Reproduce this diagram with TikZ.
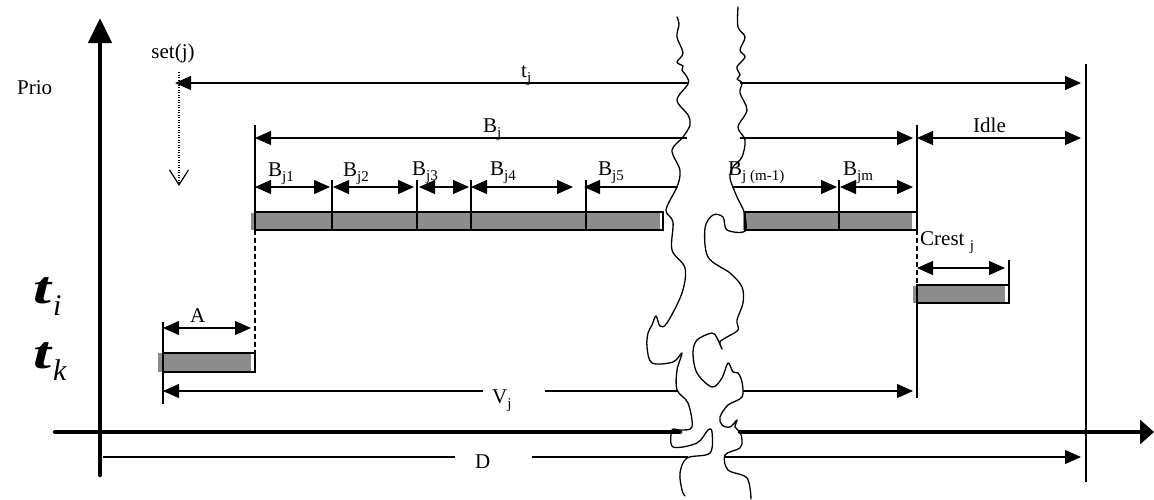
\documentclass[tikz,border=0pt]{standalone}
\usepackage{fontspec}
\setmainfont{Liberation Serif}
\usetikzlibrary{arrows.meta}
\newcommand{\lsub}[1]{\raisebox{-5pt}{\fontsize{15}{15}\selectfont #1}}
\begin{document}
\begin{tikzpicture}[x=1pt,y=-1pt,
  thin/.style={line width=1.2pt},
  both/.style={thin,{Triangle[length=16pt,width=14pt]}-{Triangle[length=16pt,width=14pt]}},
  lefthead/.style={thin,{Triangle[length=16pt,width=14pt]}-},
  righthead/.style={thin,-{Triangle[length=16pt,width=14pt]}},
  axisline/.style={line width=4.5pt,line cap=round},
  dashtick/.style={thin,dash pattern=on 5pt off 3pt},
  barfill/.style={fill=black!45,draw=none},
  barline/.style={thin,draw=black},
  lbl/.style={font=\fontsize{21}{21}\selectfont,inner sep=0pt,anchor=base west},
  bigt/.style={font=\fontsize{46}{46}\selectfont\bfseries\itshape,inner sep=0pt,anchor=base west},
  tear/.style={line width=1.3pt,line join=round,line cap=round},
]
\useasboundingbox (0,0) rectangle (1154,499);

% ---------- axes ----------
\coordinate (vaB) at (100,475); \coordinate (vaT) at (100,18);
\draw[axisline,-{Triangle[length=25pt,width=23pt]}] (vaB) -- (vaT);
\coordinate (haL) at (55,432); \coordinate (haLg) at (680,432);
\coordinate (haRg) at (740,432); \coordinate (haR) at (1154,432);
\draw[axisline] (haL) -- (haLg);
\draw[axisline,-{Triangle[length=14pt,width=24pt]}] (haRg) -- (haR);

% ---------- bars ----------
\fill[barfill] (251,213) rectangle (660,230);
\draw[barline] (255,212) rectangle (663,230);
\fill[barfill] (743,213) rectangle (912,230);
\draw[barline] (745,212) rectangle (917,230);
\fill[barfill] (158,353) rectangle (251,372);
\draw[barline] (163,353) rectangle (255,372);
\fill[barfill] (913,286) rectangle (1005,303);
\draw[barline] (917,285) rectangle (1009,303);

% ---------- ticks ----------
\coordinate (kB1) at (255,125); \coordinate (kB2) at (255,230); \coordinate (kB3) at (255,353);
\draw[thin] (kB1) -- (kB2); \draw[dashtick] (kB2) -- (kB3);
\foreach \x/\n in {332/a,417/b,471/c,586/d,839/e}{
  \coordinate (t\n1) at (\x,180); \coordinate (t\n2) at (\x,230);
  \draw[thin] (t\n1) -- (t\n2);}
\coordinate (kE1) at (917,125); \coordinate (kE2) at (917,230);
\coordinate (kE3) at (917,285); \coordinate (kE4) at (917,398);
\draw[thin] (kE1) -- (kE2); \draw[dashtick] (kE2) -- (kE3); \draw[thin] (kE3) -- (kE4);
\coordinate (kA1) at (163,322); \coordinate (kA2) at (163,404);
\draw[thin] (kA1) -- (kA2);
\coordinate (kC1) at (1009,260); \coordinate (kC2) at (1009,303);
\draw[thin] (kC1) -- (kC2);
\coordinate (kR1) at (1086,64); \coordinate (kR2) at (1086,482);
\draw[thin] (kR1) -- (kR2);

% ---------- set(j) ----------
\coordinate (sj1) at (179,72); \coordinate (sj2) at (179,186);
\draw[line width=1.1pt,dash pattern=on 1.3pt off 1.2pt,-{Straight Barb[length=15pt,width=19pt,line width=1.2pt]}] (sj1) -- (sj2);

% ---------- dimension arrows ----------
\coordinate (tjL) at (175,83); \coordinate (tjLg) at (688,83);
\coordinate (tjRg) at (740,83); \coordinate (tjR) at (1081,83);
\draw[lefthead] (tjL) -- (tjLg); \draw[righthead] (tjRg) -- (tjR);

\coordinate (bjL) at (255,138); \coordinate (bjLg) at (687,138);
\coordinate (bjRg) at (740,138); \coordinate (bjR) at (913,138);
\draw[lefthead] (bjL) -- (bjLg); \draw[righthead] (bjRg) -- (bjR);
\coordinate (idL) at (917,138); \coordinate (idR) at (1081,138);
\draw[both] (idL) -- (idR);

\coordinate (b1L) at (255,187); \coordinate (b1R) at (330,187);
\coordinate (b2L) at (333,187); \coordinate (b2R) at (414,187);
\coordinate (b3L) at (419,187); \coordinate (b3R) at (469,187);
\coordinate (b4L) at (471,187); \coordinate (b4R) at (573,187);
\coordinate (b5L) at (584,187); \coordinate (b5R) at (678,187);
\coordinate (bmL) at (732,187); \coordinate (bmR) at (837,187);
\coordinate (bnL) at (840,187); \coordinate (bnR) at (913,187);
\draw[both] (b1L) -- (b1R); \draw[both] (b2L) -- (b2R);
\draw[both] (b3L) -- (b3R); \draw[both] (b4L) -- (b4R);
\draw[lefthead] (b5L) -- (b5R); \draw[righthead] (bmL) -- (bmR);
\draw[both] (bnL) -- (bnR);

\coordinate (aL) at (163,328); \coordinate (aR) at (251,328);
\draw[both] (aL) -- (aR);
\coordinate (cL) at (917,268); \coordinate (cR) at (1005,268);
\draw[both] (cL) -- (cR);

\coordinate (vL) at (163,391); \coordinate (vL2) at (483,391);
\coordinate (vM1) at (545,391); \coordinate (vM2) at (677,391);
\coordinate (vR1) at (743,391); \coordinate (vR) at (913,391);
\draw[lefthead] (vL) -- (vL2); \draw[thin] (vM1) -- (vM2); \draw[righthead] (vR1) -- (vR);

\coordinate (dL) at (103,457); \coordinate (dL2) at (455,457);
\coordinate (dM1) at (532,457); \coordinate (dM2) at (688,457);
\coordinate (dR1) at (725,457); \coordinate (dR) at (1081,457);
\draw[thin] (dL) -- (dL2); \draw[thin] (dM1) -- (dM2); \draw[righthead] (dR1) -- (dR);

% ---------- tear ----------
\draw[tear] plot[smooth,tension=0.55] coordinates {(677,17) (679,24) (677,37) (683,53) (677,62) (683,66) (682,70) (687,77) (688,84) (677,100) (688,115) (690,125) (683,137) (672,150) (679,167) (680,175) (677,187) (666,210) (673,222) (672,250) (685,268) (682,293) (667,323) (660,326) (656,316) (652,325) (648,333) (647,347) (652,363) (673,362) (682,353) (677,370) (677,390) (688,403) (692,427) (680,430) (672,430) (673,447) (697,443) (708,430) (712,432) (710,453) (687,458) (680,473) (682,490) (685,496)};
\draw[tear] plot[smooth,tension=0.55] coordinates {(738,7) (738,27) (745,37) (740,50) (745,57) (737,67) (740,75) (737,79) (742,83) (740,93) (747,110) (738,127) (745,140) (742,157) (733,167) (730,178) (737,197) (744,212) (745,231) (727,230) (723,217) (713,215) (705,228) (708,257) (730,273) (742,287) (743,303) (737,320) (738,330) (727,337) (720,342) (722,349) (717,338) (712,333) (697,340) (693,353) (697,373) (712,387) (722,378) (728,363) (733,372) (738,373) (742,382) (742,397) (728,405) (720,417) (722,425) (730,427) (737,420) (735,427) (740,432) (742,440) (740,448) (725,455) (728,470) (747,478) (751,499)};

% ---------- labels ----------
\node[lbl] (prio) at (17,94) {Prio};
\node[lbl,anchor=base] (setj) at (173,58) {set(j)};
\node[lbl] (tj) at (521,77) {t\lsub{j}};
\node[lbl] (Bj) at (483,132) {B\lsub{j}};
\node[lbl] (idle) at (973,132) {Idle};
\node[lbl] (Bj1) at (268,176) {B\lsub{j1}};
\node[lbl] (Bj2) at (343,176) {B\lsub{j2}};
\node[lbl] (Bj3) at (412,175) {B\lsub{j3}};
\node[lbl] (Bj4) at (490,175) {B\lsub{j4}};
\node[lbl] (Bj5) at (598,175) {B\lsub{j5}};
\node[lbl] (Bjm1) at (728,175) {B\lsub{j (m-1)}};
\node[lbl] (Bjm) at (843,175) {B\lsub{jm}};
\node[lbl] (A) at (190,322) {A};
\node[lbl] (Vj) at (492,403) {V\lsub{j}};
\node[lbl] (D) at (475,468) {D};
\node[lbl] (crest) at (920,245) {Crest \lsub{j}};
\node[bigt] (ti) at (33,303) {\scalebox{1.4}[1]{t}\hspace{2pt}\raisebox{-12pt}{\fontsize{30}{30}\selectfont\mdseries\itshape i}};
\node[bigt] (tk) at (33,368) {\scalebox{1.4}[1]{t}\hspace{2pt}\raisebox{-12pt}{\fontsize{30}{30}\selectfont\mdseries\itshape k}};
\end{tikzpicture}
\end{document}
